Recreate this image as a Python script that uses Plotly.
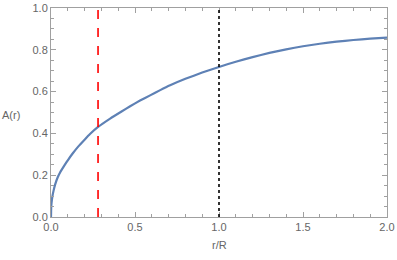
import plotly.graph_objects as go

# Data
r_vals = [0, 0.001, 0.003, 0.008, 0.015, 0.024, 0.04, 0.054, 0.08, 0.103, 0.13, 0.163, 0.2, 0.232,
          0.282, 0.352, 0.42, 0.471, 0.53, 0.59, 0.65, 0.709, 0.8, 0.9, 1.0, 1.1, 1.2, 1.3, 1.4,
          1.5, 1.6, 1.7, 1.8, 1.9, 2.0]
a_vals = [0, 0.04, 0.065, 0.097, 0.125, 0.154, 0.19, 0.213, 0.247, 0.275, 0.305, 0.338, 0.370, 0.397,
          0.432, 0.471, 0.505, 0.530, 0.557, 0.582, 0.607, 0.630, 0.661, 0.691, 0.718, 0.743, 0.765,
          0.785, 0.802, 0.817, 0.829, 0.839, 0.847, 0.853, 0.858]
red_x = 0.28
black_x = 1.0
x_ticks = [0.0, 0.5, 1.0, 1.5, 2.0]
x_tick_text = ["0.0", "0.5", "1.0", "1.5", "2.0"]
y_ticks = [0.0, 0.2, 0.4, 0.6, 0.8, 1.0]
y_tick_text = ["0.0", "0.2", "0.4", "0.6", "0.8", "1.0"]
x_label = "r/R"
y_label = "A(r)"

FONT = "Liberation Sans, Arial, sans-serif"
GRAY = "#666666"
AX = "#a0a0a0"

fig = go.Figure()
fig.add_trace(go.Scatter(x=r_vals, y=a_vals, mode="lines",
                         line=dict(color="#5E81B5", width=2.2, shape="spline", smoothing=0.4),
                         hoverinfo="skip", showlegend=False))

fig.add_shape(type="line", xref="x", yref="y", x0=red_x, x1=red_x, y0=0, y1=1,
              line=dict(color="#FF0000", width=1.6, dash="dash"))
fig.add_shape(type="line", xref="x", yref="y", x0=black_x, x1=black_x, y0=0, y1=1,
              line=dict(color="#000000", width=1.6, dash="dot"))

axis_common = dict(showgrid=False, zeroline=False, showline=True, linecolor=AX,
                   linewidth=1, mirror="ticks", ticks="inside", ticklen=5, tickcolor=AX,
                   tickwidth=1, automargin=False,
                   tickfont=dict(family=FONT, size=11, color=GRAY))

fig.update_xaxes(range=[0, 2], tickvals=x_ticks, ticktext=x_tick_text,
                 minor=dict(dtick=0.1, ticks="inside", ticklen=3, tickcolor=AX, showgrid=False),
                 **axis_common)
fig.update_yaxes(range=[0, 1], tickvals=y_ticks, ticktext=y_tick_text,
                 minor=dict(dtick=0.05, ticks="inside", ticklen=3, tickcolor=AX, showgrid=False),
                 **axis_common)

fig.add_annotation(text=y_label, xref="paper", yref="paper", x=-0.119, y=0.49, showarrow=False,
                   xanchor="center", yanchor="middle", font=dict(family=FONT, size=11, color=GRAY))
fig.add_annotation(text=x_label, xref="paper", yref="paper", x=0.5, y=-0.134, showarrow=False,
                   xanchor="center", yanchor="middle", font=dict(family=FONT, size=11, color=GRAY))

fig.update_layout(width=397, height=260, margin=dict(l=51, r=10, t=8, b=43),
                  plot_bgcolor="white", paper_bgcolor="white")

fig.write_html("out.html", config={"displayModeBar": False},
               post_script="document.body.style.margin='0';")
